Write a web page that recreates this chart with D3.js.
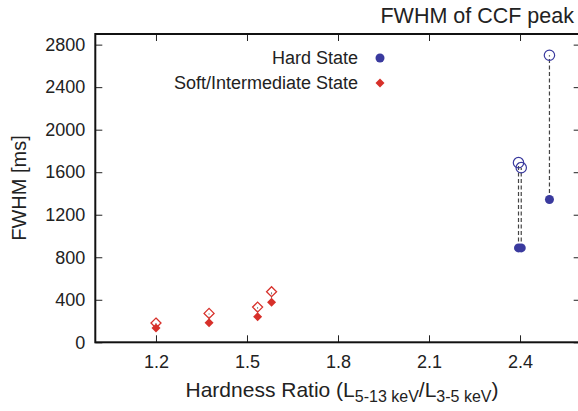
<!DOCTYPE html>
<html><head><meta charset="utf-8">
<script src="https://cdn.jsdelivr.net/npm/d3@7"></script>
<style>body{margin:0;background:#fff}svg{display:block;font-family:"Liberation Sans",Arial,sans-serif}</style>
</head><body><svg id="c" width="578" height="411"></svg>
<script>
const hardX = [2.395, 2.404, 2.497];
const hardLow = [888, 888, 1343];
const hardHigh = [1690, 1643, 2700];
const softX = [1.2, 1.375, 1.535, 1.581];
const softLow = [134, 185, 241, 376];
const softHigh = [181, 272, 331, 476];
const xTicks = [1.2, 1.5, 1.8, 2.1, 2.4];
const yTicks = [0, 400, 800, 1200, 1600, 2000, 2400, 2800];

const svg = d3.select("#c");
const L = 95.3, R = 580.7, T = 34, B = 342.3;
const x = d3.scaleLinear().domain([1.0, 2.6]).range([L, R]);
const y = d3.scaleLinear().domain([0, 2900]).range([B, T]);
const blue = "#3a3a9e", red = "#d7302a";

// ticks
const g = svg.append("g");
g.append("g").attr("transform", `translate(0,${B})`)
  .call(d3.axisBottom(x).tickValues(xTicks).tickSize(-7).tickPadding(13).tickFormat(d3.format(".1f")))
  .call(a => { a.select(".domain").remove(); a.selectAll("text").attr("font-size", 18).attr("font-family", "Liberation Sans, Arial, sans-serif").attr("fill", "#222"); a.selectAll("line").attr("stroke", "#222"); });
g.append("g").attr("transform", `translate(0,${T})`)
  .call(d3.axisTop(x).tickValues(xTicks).tickSize(-7).tickFormat(""))
  .call(a => { a.select(".domain").remove(); a.selectAll("line").attr("stroke", "#222"); });
g.append("g").attr("transform", `translate(${L},0)`)
  .call(d3.axisLeft(y).tickValues(yTicks).tickSize(-7).tickPadding(10).tickFormat(d3.format("d")))
  .call(a => { a.select(".domain").remove(); a.selectAll("text").attr("font-size", 18).attr("font-family", "Liberation Sans, Arial, sans-serif").attr("fill", "#222"); a.selectAll("line").attr("stroke", "#222"); });
g.append("g").attr("transform", `translate(${R},0)`)
  .call(d3.axisRight(y).tickValues(yTicks).tickSize(-7).tickFormat(""))
  .call(a => { a.select(".domain").remove(); a.selectAll("line").attr("stroke", "#222"); });

svg.append("rect").attr("x", L).attr("y", T).attr("width", R - L).attr("height", B - T)
  .attr("fill", "none").attr("stroke", "#111").attr("stroke-width", 2);

// dashed connectors
const hard = hardX.map((v, i) => ({x: v, lo: hardLow[i], hi: hardHigh[i]}));
const soft = softX.map((v, i) => ({x: v, lo: softLow[i], hi: softHigh[i]}));
svg.append("g").selectAll("line").data(hard).join("line")
  .attr("x1", d => x(d.x)).attr("x2", d => x(d.x))
  .attr("y1", d => y(d.lo)).attr("y2", d => y(d.hi))
  .attr("stroke", "#444").attr("stroke-width", 1.2).attr("stroke-dasharray", "4,2.5");
svg.append("g").selectAll("line").data(soft).join("line")
  .attr("x1", d => x(d.x)).attr("x2", d => x(d.x))
  .attr("y1", d => y(d.lo)).attr("y2", d => y(d.hi))
  .attr("stroke", "#777").attr("stroke-width", 1).attr("stroke-dasharray", "2,2");

const diamond = s => `M0,${-s}L${s},0L0,${s}L${-s},0Z`;
// soft hollow & filled
svg.append("g").selectAll("path").data(soft).join("path")
  .attr("transform", d => `translate(${x(d.x)},${y(d.hi)})`).attr("d", diamond(5))
  .attr("fill", "none").attr("stroke", red).attr("stroke-width", 1.3);
svg.append("g").selectAll("path").data(soft).join("path")
  .attr("transform", d => `translate(${x(d.x)},${y(d.lo)})`).attr("d", diamond(4.5))
  .attr("fill", red);
// hard hollow & filled
svg.append("g").selectAll("circle").data(hard).join("circle")
  .attr("cx", d => x(d.x)).attr("cy", d => y(d.hi)).attr("r", 5.2)
  .attr("fill", "none").attr("stroke", blue).attr("stroke-width", 1.2);
svg.append("g").selectAll("circle").data(hard).join("circle")
  .attr("cx", d => x(d.x)).attr("cy", d => y(d.lo)).attr("r", 4.5)
  .attr("fill", blue);

// legend
svg.append("text").attr("x", 358).attr("y", 64).attr("text-anchor", "end").attr("font-size", 18).attr("fill", "#222").text("Hard State");
svg.append("circle").attr("cx", 380).attr("cy", 58).attr("r", 4.5).attr("fill", blue);
svg.append("text").attr("x", 358).attr("y", 89).attr("text-anchor", "end").attr("font-size", 18).attr("fill", "#222").text("Soft/Intermediate State");
svg.append("path").attr("transform", "translate(380,83)").attr("d", diamond(4.5)).attr("fill", red);

// title
svg.append("text").attr("x", 574).attr("y", 23).attr("text-anchor", "end").attr("font-size", 21.5).attr("fill", "#222").text("FWHM of CCF peak");

// y label
svg.append("text").attr("transform", "translate(26,188) rotate(-90)").attr("text-anchor", "middle").attr("font-size", 20).attr("fill", "#222").text("FWHM [ms]");

// x label
const xl = svg.append("text").attr("x", 342).attr("y", 397).attr("text-anchor", "middle").attr("font-size", 21).attr("fill", "#222");
xl.append("tspan").text("Hardness Ratio (L");
xl.append("tspan").attr("dy", 5).attr("font-size", 16).text("5-13 keV");
xl.append("tspan").attr("dy", -5).text("/L");
xl.append("tspan").attr("dy", 5).attr("font-size", 16).text("3-5 keV");
xl.append("tspan").attr("dy", -5).text(")");
</script></body></html>
